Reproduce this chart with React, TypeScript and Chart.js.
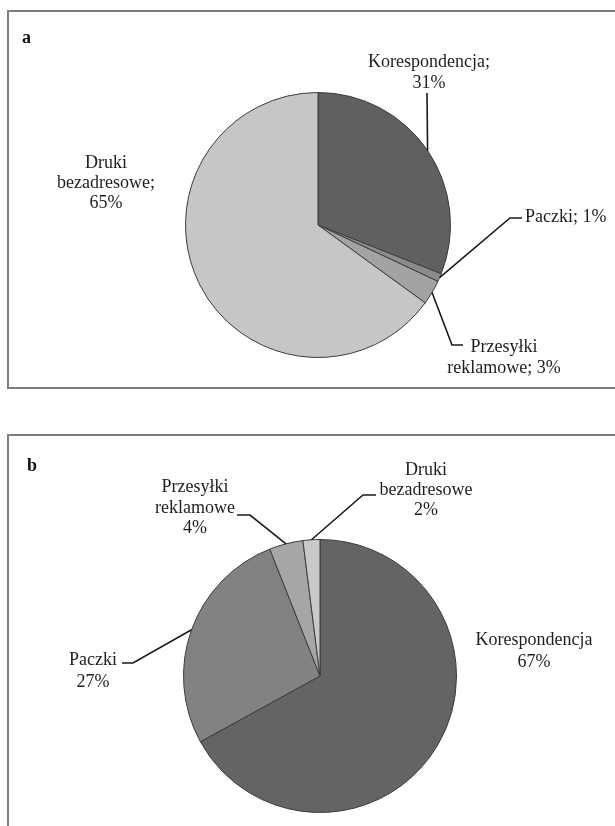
import React, { useEffect, useRef } from "react";
import { Chart, registerables } from "chart.js";

Chart.register(...registerables);

// ---- data ----
const categories = ["Korespondencja", "Paczki", "Przesyłki reklamowe", "Druki bezadresowe"];
const valuesA = [31, 1, 3, 65];
const valuesB = [67, 27, 4, 2];
// label text lines; {v} is replaced by the slice value
const labelLinesA = [
  ["Korespondencja;", "{v}%"],
  ["Paczki; {v}%"],
  ["Przesyłki", "reklamowe; {v}%"],
  ["Druki", "bezadresowe;", "{v}%"],
];
const labelLinesB = [
  ["Korespondencja", "{v}%"],
  ["Paczki", "{v}%"],
  ["Przesyłki", "reklamowe", "{v}%"],
  ["Druki", "bezadresowe", "{v}%"],
];
const colorsA = ["#606060", "#8c8c8c", "#a3a3a3", "#c6c6c6"];
const colorsB = ["#646464", "#828282", "#a6a6a6", "#c9c9c9"];

// ---- label layout (relative to pie centre) ----
type LabelPos = {
  dx: number;
  dys: number[];
  align: CanvasTextAlign;
  leader?: { x: number; y: number }[];
};

const layoutA: LabelPos[] = [
  { dx: 111, dys: [-163, -142], align: "center", leader: [{ x: 109, y: -132 }] },
  { dx: 207, dys: [-8], align: "left", leader: [{ x: 192, y: -7 }, { x: 204, y: -7 }] },
  { dx: 186, dys: [122, 143], align: "center", leader: [{ x: 134, y: 120 }, { x: 145, y: 120 }] },
  { dx: -212, dys: [-62, -42, -22], align: "center" },
];

const layoutB: LabelPos[] = [
  { dx: 214, dys: [-36, -14], align: "center" },
  { dx: -227, dys: [-16, 6], align: "center", leader: [{ x: -187, y: -13 }, { x: -198, y: -13 }] },
  { dx: -125, dys: [-189, -168, -148], align: "center", leader: [{ x: -70, y: -161 }, { x: -83, y: -161 }] },
  { dx: 106, dys: [-206, -186, -166], align: "center", leader: [{ x: 43, y: -181 }, { x: 56, y: -181 }] },
];

const FONT = '18px "Liberation Serif", "Times New Roman", serif';

function makeLabelPlugin(lines: string[][], layout: LabelPos[], values: number[]) {
  return {
    id: "pieLabels",
    afterDraw(chart: any) {
      const ctx = chart.ctx as CanvasRenderingContext2D;
      const meta = chart.getDatasetMeta(0);
      ctx.save();
      meta.data.forEach((arc: any, i: number) => {
        const p = arc.getProps(["x", "y", "startAngle", "endAngle", "outerRadius"], true);
        const mid = (p.startAngle + p.endAngle) / 2;
        const ax = p.x + Math.cos(mid) * p.outerRadius;
        const ay = p.y + Math.sin(mid) * p.outerRadius;
        const lay = layout[i];
        if (lay.leader) {
          ctx.beginPath();
          ctx.strokeStyle = "#1a1a1a";
          ctx.lineWidth = 1.6;
          ctx.moveTo(ax, ay);
          lay.leader.forEach((pt) => ctx.lineTo(p.x + pt.x, p.y + pt.y));
          ctx.stroke();
        }
        ctx.fillStyle = "#1e1e1e";
        ctx.font = FONT;
        ctx.textAlign = lay.align;
        ctx.textBaseline = "middle";
        lines[i].forEach((ln, k) => {
          const txt = ln.replace("{v}", String(values[i]));
          ctx.fillText(txt, p.x + lay.dx, p.y + lay.dys[k]);
        });
      });
      ctx.restore();
    },
  };
}

function PieCanvas(props: {
  values: number[];
  colors: string[];
  lines: string[][];
  layout: LabelPos[];
  padding: { left: number; right: number; top: number; bottom: number };
  width: number;
  height: number;
  top: number;
}) {
  const ref = useRef<HTMLCanvasElement | null>(null);
  useEffect(() => {
    if (!ref.current) return;
    const chart = new Chart(ref.current, {
      type: "pie",
      data: {
        labels: categories,
        datasets: [
          {
            data: props.values,
            backgroundColor: props.colors,
            borderColor: "#3c3c3c",
            borderWidth: 1,
          },
        ],
      },
      options: {
        animation: false,
        responsive: false,
        layout: { padding: props.padding },
        plugins: {
          legend: { display: false },
          tooltip: { enabled: false },
        },
      },
      plugins: [makeLabelPlugin(props.lines, props.layout, props.values)],
    });
    return () => chart.destroy();
  }, []);
  return (
    <canvas
      ref={ref}
      width={props.width}
      height={props.height}
      style={{ position: "absolute", left: 0, top: props.top, width: props.width, height: props.height }}
    />
  );
}

export default function App() {
  const panelLetter: React.CSSProperties = {
    position: "absolute",
    fontFamily: '"Liberation Serif", "Times New Roman", serif',
    fontWeight: "bold",
    fontSize: 18,
    lineHeight: "18px",
    color: "#111",
  };
  return (
    <div
      style={{
        position: "absolute",
        left: 0,
        top: 0,
        width: 615,
        height: 826,
        overflow: "hidden",
        background: "#fff",
      }}
    >
      <div
        style={{
          position: "absolute",
          left: 7,
          top: 10,
          width: 640,
          height: 379,
          border: "2px solid #7d7d7d",
          boxSizing: "border-box",
        }}
      />
      <div
        style={{
          position: "absolute",
          left: 7,
          top: 434,
          width: 640,
          height: 420,
          border: "2px solid #7d7d7d",
          boxSizing: "border-box",
        }}
      />
      <PieCanvas
        values={valuesA}
        colors={colorsA}
        lines={labelLinesA}
        layout={layoutA}
        padding={{ left: 185, right: 164, top: 92, bottom: 42 }}
        width={615}
        height={400}
        top={0}
      />
      <PieCanvas
        values={valuesB}
        colors={colorsB}
        lines={labelLinesB}
        layout={layoutB}
        padding={{ left: 183, right: 158, top: 139, bottom: 13 }}
        width={615}
        height={426}
        top={400}
      />
      <div style={{ ...panelLetter, left: 22, top: 28 }}>a</div>
      <div style={{ ...panelLetter, left: 27, top: 456 }}>b</div>
    </div>
  );
}
